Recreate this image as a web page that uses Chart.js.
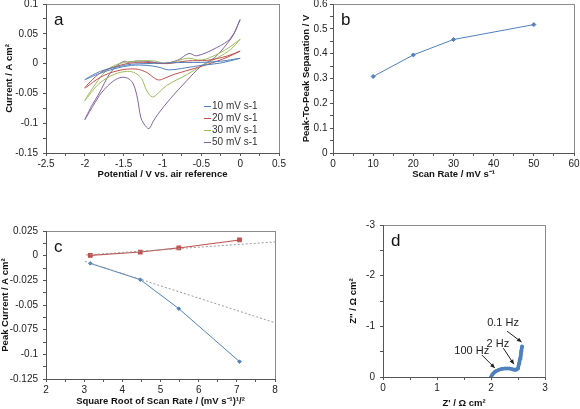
<!DOCTYPE html>
<html>
<head>
<meta charset="utf-8">
<script src="https://cdn.jsdelivr.net/npm/chart.js@4.4.1/dist/chart.umd.min.js"></script>
<style>
  body { margin: 0; background: #fff; }
  #wrap { position: relative; width: 580px; height: 409px; overflow: hidden; }
  canvas { position: absolute; left: 0; top: 0; }
</style>
</head>
<body>
<div id="wrap">
  <canvas id="cvA" width="580" height="409"></canvas>
  <canvas id="cvB" width="580" height="409"></canvas>
  <canvas id="cvC" width="580" height="409"></canvas>
  <canvas id="cvD" width="580" height="409"></canvas>
</div>
<script>
// panel a: cyclic voltammograms (potential V, current A cm-2), loop 0 -> -2 -> 0
const cvLabels = ["10 mV s-1", "20 mV s-1", "30 mV s-1", "50 mV s-1"];
const cv10V = [0, -0.25, -0.5, -0.7, -0.92, -1.05, -1.2, -1.4, -1.6, -1.8, -2.0, -1.8, -1.6, -1.4, -1.2, -1.0, -0.7, -0.5, -0.25, 0];
const cv10I = [0.009, 0.001, -0.003, -0.007, -0.0105, -0.006, -0.003, -0.003, -0.008, -0.016, -0.027, -0.013, -0.006, -0.001, 0.0, 0.001, 0.002, 0.002, 0.004, 0.009];
const cv20V = [0, -0.16, -0.29, -0.55, -0.85, -0.98, -1.05, -1.12, -1.2, -1.35, -1.58, -1.8, -2.0, -1.8, -1.58, -1.36, -1.15, -0.94, -0.68, -0.42, -0.16, 0];
const cv20I = [0.021, 0.011, 0.0045, -0.0067, -0.018, -0.025, -0.0275, -0.023, -0.015, -0.009, -0.012, -0.023, -0.041, -0.0155, -0.004, 0.0017, 0.0017, 0.0, 0.0045, 0.0056, 0.013, 0.021];
const cv30V = [0, -0.12, -0.29, -0.5, -0.68, -0.95, -1.05, -1.13, -1.2, -1.27, -1.35, -1.45, -1.62, -1.82, -2.0, -1.8, -1.67, -1.5, -1.28, -1.11, -0.94, -0.68, -0.5, -0.29, -0.12, 0];
const cv30I = [0.041, 0.024, 0.01, -0.004, -0.018, -0.037, -0.049, -0.056, -0.046, -0.025, -0.016, -0.013, -0.018, -0.034, -0.062, -0.023, -0.0067, 0.0017, 0.0045, 0.0045, 0.0, 0.009, 0.006, 0.016, 0.029, 0.041];
const cv50V = [0, -0.08, -0.17, -0.33, -0.5, -0.69, -0.9, -1.06, -1.12, -1.175, -1.24, -1.28, -1.32, -1.37, -1.43, -1.52, -1.63, -1.78, -1.9, -2.0, -1.9, -1.82, -1.68, -1.58, -1.49, -1.44, -1.33, -1.15, -1.0, -0.8, -0.66, -0.56, -0.3, -0.12, 0];
const cv50I = [0.074, 0.05, 0.033, 0.01, -0.004, -0.029, -0.059, -0.085, -0.097, -0.109, -0.101, -0.09, -0.06, -0.036, -0.026, -0.023, -0.029, -0.048, -0.072, -0.094, -0.068, -0.051, -0.017, -0.003, 0.004, 0.002, 0.0045, 0.003, 0.0, 0.006, 0.017, 0.013, 0.027, 0.043, 0.074];

// panel b
const scanRate = [10, 20, 30, 50];
const peakSep = [0.308, 0.395, 0.457, 0.517];

// panel c
const sqrtRate = [3.16, 4.47, 5.48, 7.07];
const anodicPeak = [0.0003, 0.0037, 0.0078, 0.0159];
const cathodicPeak = [-0.0078, -0.0243, -0.0537, -0.1074];
const anodicFitX = [3.05, 8];
const anodicFitY = [0.0007, 0.0139];
const cathodicFitX = [3.02, 8];
const cathodicFitY = [-0.0058, -0.068];

// panel d: impedance, Z' and Z''
const nyqRe = [2.0, 2.02, 2.04, 2.07, 2.1, 2.14, 2.18, 2.22, 2.26, 2.3, 2.34, 2.38, 2.41, 2.44, 2.46, 2.48, 2.5, 2.51, 2.52, 2.53, 2.54, 2.55, 2.555, 2.56, 2.57, 2.575];
const nyqIm = [0.0, -0.04, -0.07, -0.1, -0.12, -0.14, -0.155, -0.165, -0.17, -0.17, -0.168, -0.16, -0.15, -0.145, -0.145, -0.155, -0.18, -0.22, -0.27, -0.32, -0.37, -0.42, -0.47, -0.52, -0.57, -0.6];
const freqLabels = ["100 Hz", "2 Hz", "0.1 Hz"];
const freqIndex = [3, 14, 25];

const BLUE = "#4F81BD", RED = "#C0504D", GREEN = "#9BBB59", PURPLE = "#8064A2";
const FONT = "'Liberation Sans', Arial, sans-serif";
Chart.defaults.font.family = FONT;
Chart.defaults.font.size = 10;
Chart.defaults.color = "#222";

const pts = (xs, ys) => xs.map((x, i) => ({ x: x, y: ys[i] }));

function majorOnly(step) {
  return function (v) {
    const k = v / step;
    return Math.abs(k - Math.round(k)) < 1e-6 ? String(+v.toFixed(4)) : "";
  };
}

function axis(o) {
  return {
    type: "linear",
    min: o.min,
    max: o.max,
    reverse: !!o.reverse,
    ticks: {
      stepSize: o.step,
      autoSkip: false,
      maxTicksLimit: 100,
      maxRotation: 0,
      minRotation: 0,
      padding: o.pad,
      color: "#222",
      callback: majorOnly(o.major),
    },
    grid: { drawOnChartArea: false, tickLength: 3, tickColor: "#555" },
    border: { color: "#555" },
    title: {
      display: true,
      text: o.title,
      color: "#111",
      padding: 0,
      font: { size: 9.5, weight: "bold", lineHeight: 1.1 },
    },
    afterFit: o.horiz
      ? (s) => { s.height = o.size; s.paddingLeft = 0; s.paddingRight = 0; }
      : (s) => { s.width = o.size; s.paddingTop = 0; s.paddingBottom = 0; },
  };
}

const decor = {
  id: "decor",
  beforeDraw(chart) {
    const { ctx, chartArea: a } = chart;
    ctx.save();
    ctx.strokeStyle = "#8c8c8c";
    ctx.lineWidth = 1;
    ctx.strokeRect(Math.round(a.left) + 0.5, Math.round(a.top) + 0.5,
      Math.round(a.right - a.left), Math.round(a.bottom - a.top));
    ctx.restore();
  },
  afterDraw(chart, args, opts) {
    const { ctx, chartArea: a } = chart;
    ctx.save();
    if (opts.letter) {
      ctx.font = "17px " + FONT;
      ctx.fillStyle = "#111";
      ctx.textBaseline = "alphabetic";
      ctx.fillText(opts.letter, a.left + 8, a.top + 21);
    }
    if (opts.legend) {
      const lg = opts.legend;
      ctx.font = "10px " + FONT;
      ctx.textBaseline = "middle";
      chart.data.datasets.filter((d) => d.label).forEach((d, i) => {
        const y = Math.round(a.top + lg.top + i * lg.row) + 0.5;
        const x = a.left + lg.left;
        ctx.strokeStyle = d.borderColor;
        ctx.lineWidth = 1;
        ctx.beginPath();
        ctx.moveTo(x, y);
        ctx.lineTo(x + lg.sample, y);
        ctx.stroke();
        ctx.fillStyle = "#333";
        ctx.fillText(d.label, x + lg.sample + 1, y);
      });
    }
    if (opts.notes) {
      const xs = chart.scales.x, ys = chart.scales.y;
      ctx.font = "11px " + FONT;
      ctx.fillStyle = "#222";
      ctx.strokeStyle = "#222";
      ctx.textAlign = "center";
      ctx.textBaseline = "middle";
      opts.notes.forEach((n, i) => {
        const k = freqIndex[i];
        const px = xs.getPixelForValue(nyqRe[k]);
        const py = ys.getPixelForValue(nyqIm[k]);
        const tx = px + n.tail[0], ty = py + n.tail[1];
        const hx = px + n.tip[0], hy = py + n.tip[1];
        ctx.lineWidth = 1;
        ctx.beginPath();
        ctx.moveTo(tx, ty);
        ctx.lineTo(hx, hy);
        ctx.stroke();
        const ang = Math.atan2(hy - ty, hx - tx);
        ctx.beginPath();
        ctx.moveTo(hx, hy);
        ctx.lineTo(hx - 5 * Math.cos(ang - 0.45), hy - 5 * Math.sin(ang - 0.45));
        ctx.lineTo(hx - 5 * Math.cos(ang + 0.45), hy - 5 * Math.sin(ang + 0.45));
        ctx.closePath();
        ctx.fill();
        ctx.fillText(freqLabels[i], px + n.text[0], py + n.text[1]);
      });
    }
    ctx.restore();
  },
};

function makeChart(id, datasets, xAxis, yAxis, padding, decorOpts) {
  return new Chart(document.getElementById(id), {
    type: "scatter",
    data: { datasets: datasets },
    options: {
      responsive: false,
      animation: false,
      events: [],
      layout: { padding: padding, autoPadding: false },
      plugins: { legend: { display: false }, tooltip: { enabled: false }, decor: decorOpts },
      scales: { x: xAxis, y: yAxis },
    },
    plugins: [decor],
  });
}

function cvSet(label, xs, ys, color) {
  return { label: label, data: pts(xs, ys), showLine: true, tension: 0.35,
    borderColor: color, borderWidth: 1, pointRadius: 0 };
}

// a
makeChart("cvA", [
  cvSet(cvLabels[0], cv10V, cv10I, BLUE),
  cvSet(cvLabels[1], cv20V, cv20I, RED),
  cvSet(cvLabels[2], cv30V, cv30I, GREEN),
  cvSet(cvLabels[3], cv50V, cv50I, PURPLE),
],
  axis({ min: -2.5, max: 0.5, step: 0.25, major: 0.5, pad: 2, horiz: true, size: 27, title: "Potential / V vs. air reference" }),
  axis({ min: -0.15, max: 0.1, step: 0.025, major: 0.05, pad: 5, size: 42, title: "Current / A cm²" }),
  { left: 4, top: 4, right: 301, bottom: 229 },
  { letter: "a", legend: { left: 158, top: 102, row: 12, sample: 7 } });

// b
makeChart("cvB", [
  { data: pts(scanRate, peakSep), showLine: true, borderColor: BLUE, backgroundColor: BLUE,
    borderWidth: 1, pointStyle: "rectRot", pointRadius: 2 },
],
  axis({ min: 0, max: 60, step: 5, major: 10, pad: 2, horiz: true, size: 27, title: "Scan Rate / mV s⁻¹" }),
  axis({ min: 0, max: 0.6, step: 0.05, major: 0.1, pad: 2.5, size: 32, title: "Peak-To-Peak Separation / V" }),
  { left: 301, top: 4, right: 6, bottom: 229 },
  { letter: "b" });

// c
makeChart("cvC", [
  { data: pts(anodicFitX, anodicFitY), showLine: true, borderColor: "#999", borderDash: [2, 2], borderWidth: 1, pointRadius: 0 },
  { data: pts(cathodicFitX, cathodicFitY), showLine: true, borderColor: "#999", borderDash: [2, 2], borderWidth: 1, pointRadius: 0 },
  { data: pts(sqrtRate, anodicPeak), showLine: true, borderColor: RED, backgroundColor: RED,
    borderWidth: 1.2, pointStyle: "rect", pointRadius: 2.5 },
  { data: pts(sqrtRate, cathodicPeak), showLine: true, borderColor: BLUE, backgroundColor: BLUE,
    borderWidth: 1, pointStyle: "rectRot", pointRadius: 1.8 },
],
  axis({ min: 2, max: 8, step: 0.5, major: 1, pad: 2, horiz: true, size: 28, title: "Square Root of Scan Rate / (mV s⁻¹)¹/²" }),
  axis({ min: -0.125, max: 0.025, step: 0.0125, major: 0.025, pad: 5, size: 46, title: "Peak Current / A cm²" }),
  { left: 0, top: 231, right: 305, bottom: 2 },
  { letter: "c" });

// d
makeChart("cvD", [
  { data: pts(nyqRe, nyqIm), showLine: true, borderColor: BLUE, backgroundColor: BLUE,
    borderWidth: 3, pointRadius: 2, pointBorderWidth: 0 },
],
  axis({ min: 0, max: 3, step: 0.5, major: 1, pad: 2, horiz: true, size: 32, title: "Z' / Ω cm²" }),
  axis({ min: -3, max: 0, step: 0.5, major: 1, pad: 5, size: 35, reverse: true, title: "Z'' / Ω cm²" }),
  { left: 348, top: 225, right: 35, bottom: 0 },
  { letter: "d", notes: [
    { text: [-23, -21], tail: [-13, -17], tip: [0, -4] },
    { text: [-18, -26], tail: [-12.5, -21.5], tip: [-2, -5.5] },
    { text: [-19, -24], tail: [-15, -15.5], tip: [-0.5, -4.5] },
  ] });
</script>
</body>
</html>
